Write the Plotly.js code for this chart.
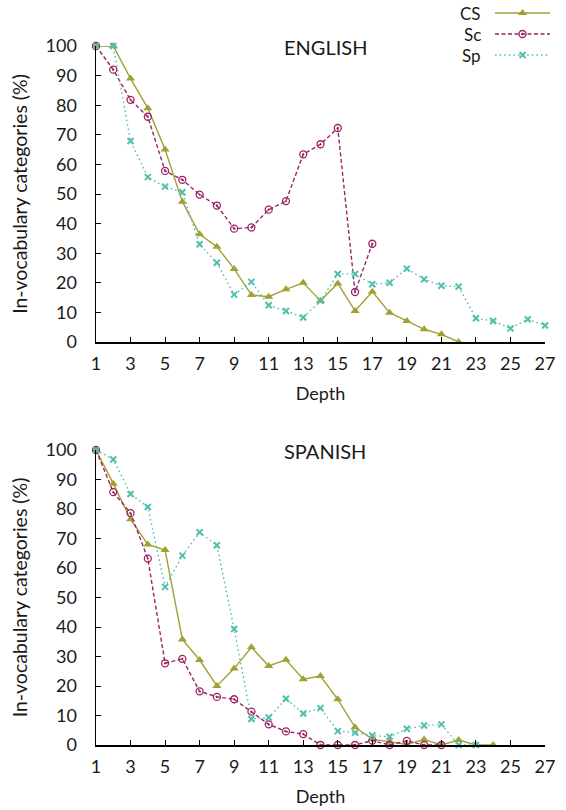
<!DOCTYPE html>
<html>
<head>
<meta charset="utf-8">
<script src="https://cdn.plot.ly/plotly-3.0.1.min.js"></script>
<style>html,body{margin:0;padding:0;background:#fff;}#chart{width:566px;height:810px;}</style>
</head>
<body>
<div id="chart"></div>
<script>
// ---- Data ----
const depthEn = [1,2,3,4,5,6,7,8,9,10,11,12,13,14,15,16,17,18,19,20,21,22,23,24,25,26,27];
const enCS = [100,100,89,79,65,47.4,36.4,32.2,24.7,15.9,15.3,17.8,20.0,13.9,19.8,10.5,17.0,9.9,7.1,4.3,2.6,0];
const enSc = [100,92,81.8,76.1,57.8,54.8,49.8,46.1,38.3,38.7,44.7,47.6,63.4,66.8,72.3,16.9,33.2];
const enSp = [100,100,67.9,55.7,52.5,50.6,33.0,26.8,16.0,20.3,12.4,10.5,8.3,13.9,23.0,23.0,19.5,20.0,24.8,21.2,19.0,18.7,8.0,7.1,4.6,7.7,5.6];

const depthEs = [1,2,3,4,5,6,7,8,9,10,11,12,13,14,15,16,17,18,19,20,21,22,23,24];
const esCS = [100,88.6,76.5,68.0,66.1,35.8,28.8,20.0,25.9,33.1,26.8,28.9,22.3,23.4,15.5,6.0,2.0,1.1,0.2,1.9,0,1.7,0,0];
const esSc = [100,85.7,78.6,63.2,27.7,29.2,18.2,16.3,15.5,11.3,7.0,4.6,3.7,0,0,0,1.5,0,1.4,0,0];
const esSp = [100,96.8,85.1,80.7,53.6,64.2,72.1,67.7,39.3,8.8,9.3,15.7,10.7,12.5,4.7,4.2,3.2,2.8,5.5,6.6,7.0,0,0];

const seriesNames = ['CS','Sc','Sp'];
const panelTitles = ['ENGLISH','SPANISH'];
const xTitle = 'Depth';
const yTitle = 'In-vocabulary categories (%)';

// ---- Styles ----
const FONT = 'Lato, "Open Sans", sans-serif';
const TXT = '#1a1a1a';
const styles = {
  CS: {color:'#a3a033', dash:'solid', symbol:'triangle-up', size:8, mlw:0},
  Sc: {color:'#9c2462', dash:'4px,2.5px', symbol:'circle-open-dot', size:7, mlw:1.3},
  Sp: {color:'#4fbfae', dash:'1.6px,3px', symbol:'x-thin-open', size:6, mlw:2}
};

function mk(name, x, y, xa, ya) {
  const s = styles[name];
  return {
    type:'scatter', mode:'lines+markers', name:name, showlegend:false,
    x:x.slice(0, y.length), y:y, xaxis:xa, yaxis:ya, cliponaxis:false,
    line:{color:s.color, width:1.4, dash:s.dash},
    marker:{symbol:s.symbol, size:s.size, color:s.color, line:{color:s.color, width:s.mlw}}
  };
}

const traces = [
  mk('CS', depthEn, enCS, 'x', 'y'),
  mk('Sc', depthEn, enSc, 'x', 'y'),
  mk('Sp', depthEn, enSp, 'x', 'y'),
  mk('CS', depthEs, esCS, 'x2', 'y2'),
  mk('Sc', depthEs, esSc, 'x2', 'y2'),
  mk('Sp', depthEs, esSp, 'x2', 'y2')
];

// legend samples (manual, text on the left)
seriesNames.forEach((n, i) => {
  const s = styles[n];
  traces.push({
    type:'scatter', mode:'lines+markers', showlegend:false, hoverinfo:'skip',
    x:[0,0.5,1], y:[i+1,i+1,i+1], xaxis:'x3', yaxis:'y3', cliponaxis:false,
    line:{color:s.color, width:1.4, dash:s.dash},
    marker:{symbol:s.symbol, size:s.size, color:s.color, opacity:[0,1,0], line:{color:s.color, width:s.mlw}}
  });
});

const W = 566, H = 810;
const px = v => v / W;
const py = v => (H - v) / H;

function xAxis(anchor, dom) {
  return {
    domain:dom, anchor:anchor, range:[1,27], tick0:1, dtick:2,
    showline:true, linecolor:'#000', linewidth:1.5, mirror:false,
    ticks:'inside', ticklen:5, tickwidth:1, tickcolor:'#000',
    showgrid:false, zeroline:false, ticklabelstandoff:5,
    tickfont:{family:FONT, size:18, color:TXT},
    title:{text:xTitle, font:{family:FONT, size:18, color:TXT}, standoff:14}
  };
}
function yAxis(anchor, dom) {
  return {
    domain:dom, anchor:anchor, range:[0,100], dtick:10,
    showline:true, linecolor:'#000', linewidth:1.5,
    ticks:'inside', ticklen:5, tickwidth:1, tickcolor:'#000',
    showgrid:false, zeroline:false, ticklabelstandoff:14,
    tickfont:{family:FONT, size:18, color:TXT},
    title:{text:yTitle, font:{family:FONT, size:19.5, color:TXT}, standoff:12}
  };
}

const layout = {
  width:W, height:H, margin:{l:0, r:0, t:0, b:0},
  paper_bgcolor:'#fff', plot_bgcolor:'#fff', showlegend:false,
  font:{family:FONT, color:TXT},
  xaxis: xAxis('y', [px(96), px(545)]),
  yaxis: yAxis('x', [py(342), py(46)]),
  xaxis2: xAxis('y2', [px(96), px(545)]),
  yaxis2: yAxis('x2', [py(745), py(450)]),
  xaxis3: {domain:[px(495), px(550)], anchor:'y3', range:[0,1], visible:false, fixedrange:true},
  yaxis3: {domain:[py(65.5), py(2.5)], anchor:'x3', range:[3.5,0.5], visible:false, fixedrange:true},
  annotations: [
    {text:panelTitles[0], xref:'paper', yref:'paper', x:px(325), y:py(47), xanchor:'center', yanchor:'middle', showarrow:false, font:{family:FONT, size:20, color:TXT}},
    {text:panelTitles[1], xref:'paper', yref:'paper', x:px(325), y:py(451), xanchor:'center', yanchor:'middle', showarrow:false, font:{family:FONT, size:20, color:TXT}}
  ].concat(seriesNames.map((n, i) => ({
    text:n, xref:'paper', yref:'y3', x:px(482), y:i+1, xanchor:'right', yanchor:'middle', showarrow:false,
    borderpad:0, font:{family:FONT, size:17, color:TXT}
  })))
};

Plotly.newPlot('chart', traces, layout, {staticPlot:true, displayModeBar:false});
</script>
</body>
</html>
